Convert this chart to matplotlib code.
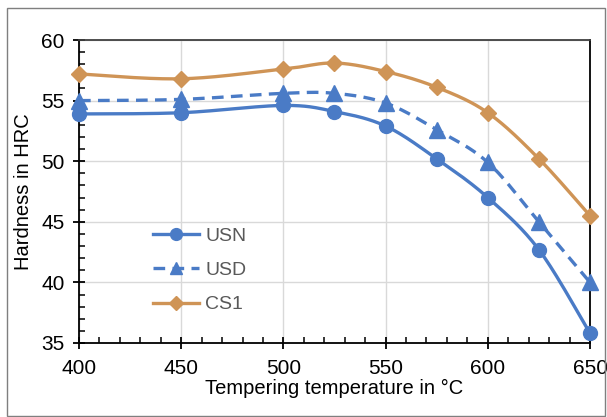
import numpy as np
import matplotlib
matplotlib.use("Agg")
import matplotlib.pyplot as plt
from matplotlib.ticker import MultipleLocator
from matplotlib.patches import Rectangle

plt.rcParams['font.family'] = ['Liberation Sans', 'DejaVu Sans']

# --- data ---
temps = [400, 450, 500, 525, 550, 575, 600, 625, 650]
usn = [53.9, 54.0, 54.6, 54.1, 52.9, 50.2, 47.0, 42.7, 35.8]
usd = [55.0, 55.1, 55.6, 55.6, 54.8, 52.6, 49.9, 45.0, 40.0]
cs1 = [57.2, 56.8, 57.6, 58.1, 57.4, 56.1, 54.0, 50.2, 45.5]

BLUE = "#4a7bc6"
TAN = "#cf9456"


def smooth(x, y, n=30):
    # Excel-style smoothed line (Catmull-Rom through the points)
    x = np.asarray(x, float)
    y = np.asarray(y, float)
    px = np.concatenate([[x[0]], x, [x[-1]]])
    py = np.concatenate([[y[0]], y, [y[-1]]])
    xs, ys = [], []
    t = np.linspace(0, 1, n)
    for i in range(1, len(px) - 2):
        p0 = np.array([px[i], py[i]])
        p3 = np.array([px[i + 1], py[i + 1]])
        c1 = p0 + (np.array([px[i + 1], py[i + 1]]) - np.array([px[i - 1], py[i - 1]])) / 6
        c2 = p3 - (np.array([px[i + 2], py[i + 2]]) - p0) / 6
        b = ((1 - t) ** 3)[:, None] * p0 + (3 * (1 - t) ** 2 * t)[:, None] * c1 \
            + (3 * (1 - t) * t ** 2)[:, None] * c2 + (t ** 3)[:, None] * p3
        xs.extend(b[:, 0])
        ys.extend(b[:, 1])
    return np.array(xs), np.array(ys)


fig = plt.figure(figsize=(6.07, 4.17), dpi=100)
ax = fig.add_axes([79 / 607, 74 / 417, 511 / 607, 303 / 417])

fig.patches.append(Rectangle((7 / 607, 1 / 417), 598 / 607, 408 / 417,
                             transform=fig.transFigure, fill=False,
                             edgecolor="#7f7f7f", lw=1.0))

series = [
    ("USN", usn, BLUE, "-", "o", 10),
    ("USD", usd, BLUE, (0, (3.5, 2.2)), "^", 11),
    ("CS1", cs1, TAN, "-", "D", 8),
]
for name, vals, col, ls, mk, ms in series:
    sx, sy = smooth(temps, vals)
    ax.plot(sx, sy, color=col, ls=ls, lw=2.4, zorder=3, clip_on=False)
    ax.plot(temps, vals, ls="none", marker=mk, ms=ms, color=col, zorder=4, clip_on=False)
    ax.plot([], [], color=col, ls=ls, lw=2.4, marker=mk, ms=ms * 0.85, label=name)

ax.set_xlim(400, 650)
ax.set_ylim(35, 60)
ax.xaxis.set_major_locator(MultipleLocator(50))
ax.xaxis.set_minor_locator(MultipleLocator(10))
ax.yaxis.set_major_locator(MultipleLocator(5))
ax.yaxis.set_minor_locator(MultipleLocator(1))
ax.tick_params(which="major", direction="inout", length=9, width=1.3, labelsize=15, colors="black")
ax.tick_params(which="minor", direction="in", length=4, width=1.1)
ax.tick_params(axis="x", pad=7)
ax.tick_params(axis="y", pad=6)
ax.grid(True, which="major", color="#d9d9d9", lw=1.0, zorder=0)
for s in ax.spines.values():
    s.set_linewidth(1.3)
    s.set_color("black")
ax.spines["top"].set_color("#404040")

ax.set_xlabel("Tempering temperature in °C", fontsize=14.5, labelpad=1)
ax.set_ylabel("Hardness in HRC", fontsize=14.5, labelpad=6)

leg = ax.legend(loc="lower left", bbox_to_anchor=(0.11, 0.04), frameon=False,
                fontsize=14, handlelength=2.4, handletextpad=0.3, labelspacing=0.85)
for t in leg.get_texts():
    t.set_color("#595959")

fig.savefig("out.png", dpi=100)
